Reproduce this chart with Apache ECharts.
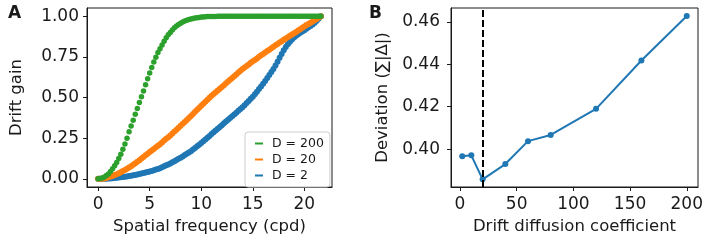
<!DOCTYPE html>
<html>
<head>
<meta charset="utf-8">
<script src="https://cdn.jsdelivr.net/npm/echarts@6.0.0/dist/echarts.min.js"></script>
<style>
  html, body { margin: 0; padding: 0; background: #fff; }
  #chart { width: 716px; height: 240px; }
</style>
</head>
<body>
<div id="chart"></div>
<script>
  // A: spatial frequency (cpd)
  var freq = [
    0, 0.2, 0.4, 0.6, 0.8, 1, 1.2, 1.4, 1.6, 1.8,
    2, 2.2, 2.4, 2.6, 2.8, 3, 3.2, 3.4, 3.6, 3.8,
    4, 4.2, 4.4, 4.6, 4.8, 5, 5.2, 5.4, 5.6, 5.8,
    6, 6.2, 6.4, 6.6, 6.8, 7, 7.2, 7.4, 7.6, 7.8,
    8, 8.2, 8.4, 8.6, 8.8, 9, 9.2, 9.4, 9.6, 9.8,
    10, 10.2, 10.4, 10.6, 10.8, 11, 11.2, 11.4, 11.6, 11.8,
    12, 12.2, 12.4, 12.6, 12.8, 13, 13.2, 13.4, 13.6, 13.8,
    14, 14.2, 14.4, 14.6, 14.8, 15, 15.2, 15.4, 15.6, 15.8,
    16, 16.2, 16.4, 16.6, 16.8, 17, 17.2, 17.4, 17.6, 17.8,
    18, 18.2, 18.4, 18.6, 18.8, 19, 19.2, 19.4, 19.6, 19.8,
    20, 20.2, 20.4, 20.6, 20.8, 21, 21.2, 21.4, 21.6
  ]
  // drift gain, D = 2
  var gainD2 = [
    0.000, 0.000, 0.000, 0.001, 0.001, 0.002, 0.003, 0.004, 0.005, 0.007,
    0.008, 0.010, 0.011, 0.013, 0.015, 0.017, 0.019, 0.022, 0.024, 0.027,
    0.030, 0.033, 0.036, 0.039, 0.042, 0.045, 0.049, 0.053, 0.057, 0.061,
    0.065, 0.071, 0.077, 0.083, 0.089, 0.095, 0.102, 0.109, 0.116, 0.123,
    0.130, 0.138, 0.146, 0.154, 0.162, 0.170, 0.180, 0.190, 0.200, 0.210,
    0.220, 0.231, 0.242, 0.253, 0.264, 0.275, 0.286, 0.297, 0.308, 0.319,
    0.330, 0.341, 0.352, 0.363, 0.374, 0.385, 0.396, 0.407, 0.418, 0.429,
    0.440, 0.453, 0.466, 0.479, 0.492, 0.505, 0.520, 0.536, 0.552, 0.568,
    0.585, 0.602, 0.620, 0.638, 0.656, 0.675, 0.697, 0.720, 0.744, 0.768,
    0.790, 0.810, 0.828, 0.843, 0.857, 0.869, 0.879, 0.889, 0.898, 0.906,
    0.914, 0.922, 0.931, 0.940, 0.949, 0.960, 0.972, 0.985, 1.000
  ]
  // drift gain, D = 20
  var gainD20 = [
    0.000, 0.000, 0.001, 0.003, 0.006, 0.010, 0.014, 0.018, 0.023, 0.029,
    0.035, 0.041, 0.048, 0.055, 0.062, 0.070, 0.078, 0.087, 0.096, 0.105,
    0.115, 0.125, 0.135, 0.145, 0.155, 0.165, 0.174, 0.184, 0.194, 0.204,
    0.213, 0.224, 0.235, 0.246, 0.256, 0.267, 0.279, 0.291, 0.302, 0.314,
    0.326, 0.338, 0.350, 0.362, 0.374, 0.386, 0.399, 0.412, 0.425, 0.437,
    0.450, 0.462, 0.474, 0.486, 0.498, 0.510, 0.521, 0.532, 0.543, 0.554,
    0.565, 0.576, 0.587, 0.598, 0.609, 0.620, 0.631, 0.642, 0.653, 0.664,
    0.675, 0.684, 0.694, 0.703, 0.713, 0.722, 0.731, 0.740, 0.750, 0.759,
    0.768, 0.777, 0.786, 0.794, 0.803, 0.812, 0.821, 0.829, 0.838, 0.846,
    0.855, 0.863, 0.871, 0.879, 0.887, 0.895, 0.903, 0.912, 0.920, 0.929,
    0.937, 0.945, 0.952, 0.960, 0.967, 0.975, 0.983, 0.991, 1.000
  ]
  // drift gain, D = 200
  var gainD200 = [
    0.000, 0.002, 0.006, 0.012, 0.020, 0.030, 0.045, 0.062, 0.080, 0.100,
    0.125, 0.152, 0.182, 0.215, 0.250, 0.290, 0.325, 0.360, 0.397, 0.433,
    0.470, 0.505, 0.540, 0.578, 0.615, 0.650, 0.685, 0.718, 0.748, 0.776,
    0.800, 0.822, 0.845, 0.867, 0.885, 0.900, 0.915, 0.928, 0.940, 0.949,
    0.957, 0.964, 0.970, 0.975, 0.979, 0.983, 0.986, 0.988, 0.990, 0.992,
    0.994, 0.995, 0.996, 0.997, 0.997, 0.998, 0.998, 0.998, 0.999, 0.999,
    0.999, 1.000, 1.000, 1.000, 1.000, 1.000, 1.000, 1.000, 1.000, 1.000,
    1.000, 1.000, 1.000, 1.000, 1.000, 1.000, 1.000, 1.000, 1.000, 1.000,
    1.000, 1.000, 1.000, 1.000, 1.000, 1.000, 1.000, 1.000, 1.000, 1.000,
    1.000, 1.000, 1.000, 1.000, 1.000, 1.000, 1.000, 1.000, 1.000, 1.000,
    1.000, 1.000, 1.000, 1.000, 1.000, 1.000, 1.000, 1.000, 1.000
  ]
  var ticksAX = [0, 5, 10, 15, 20]
  var ticksAY = [0, 0.25, 0.5, 0.75, 1]

  // B: deviation vs drift diffusion coefficient
  var diffCoef = [2, 10, 20, 40, 60, 80, 120, 160, 200]
  var deviation = [0.3967, 0.3971, 0.3858, 0.3930, 0.4038, 0.4067, 0.4190, 0.4418, 0.4627]
  var optimalD = 20
  var ticksBX = [0, 50, 100, 150, 200]
  var ticksBY = [0.40, 0.42, 0.44, 0.46]

  var font = 'DejaVu Sans'
  var ink = '#1a1a1a'
  var colors = { d2: '#1f77b4', d20: '#ff7f0e', d200: '#2ca02c' }

  function pairs(xs, ys) {
    return xs.map(function(x, i) { return [x, ys[i]] })
  }

  function valueAxis(min, max, ticks, fmt, labelMargin, extra) {
    var ax = {
      type: 'value',
      min: min,
      max: max,
      axisLine: { show: true, onZero: false, lineStyle: { color: ink, width: 1 } },
      axisTick: { show: true, customValues: ticks, length: 4, lineStyle: { color: ink, width: 1 } },
      axisLabel: {
        customValues: ticks,
        color: ink,
        fontFamily: font,
        fontSize: 17,
        margin: labelMargin,
        formatter: fmt
      },
      splitLine: { show: false },
      nameLocation: 'middle',
      nameTextStyle: { color: ink, fontFamily: font, fontSize: 16.5 }
    }
    return Object.assign(ax, extra)
  }

  var chart = echarts.init(document.getElementById('chart'), null, { renderer: 'canvas' })

  var options = {
    animation: false,
    backgroundColor: '#fff',
    title: [
      { text: 'A', left: 3, top: 0, textStyle: { fontFamily: font, fontSize: 17, fontWeight: 'bold', color: ink } },
      { text: 'B', left: 364, top: 0, textStyle: { fontFamily: font, fontSize: 17, fontWeight: 'bold', color: ink } }
    ],
    grid: [
      { left: 87, top: 8, width: 245, height: 181, show: true, borderColor: ink, borderWidth: 1, backgroundColor: 'transparent' },
      { left: 451, top: 8, width: 247, height: 181, show: true, borderColor: ink, borderWidth: 1, backgroundColor: 'transparent' }
    ],
    xAxis: [
      valueAxis(-1.08, 22.68, ticksAX, function(v) { return String(v) }, 9,
        { gridIndex: 0, name: 'Spatial frequency (cpd)', nameGap: 31 }),
      valueAxis(-7.9, 209.9, ticksBX, function(v) { return String(v) }, 9,
        { gridIndex: 1, name: 'Drift diffusion coefficient', nameGap: 31 })
    ],
    yAxis: [
      valueAxis(-0.05, 1.05, ticksAY, function(v) { return v.toFixed(2) }, 8,
        { gridIndex: 0, name: 'Drift gain', nameGap: 62 }),
      valueAxis(0.3822, 0.4665, ticksBY, function(v) { return v.toFixed(2) }, 11,
        { gridIndex: 1, name: 'Deviation (\u2211|\u0394|)', nameGap: 60 })
    ],
    legend: {
      left: 245,
      top: 132,
      orient: 'vertical',
      data: ['D = 200', 'D = 20', 'D = 2'],
      icon: 'rect',
      itemWidth: 8,
      itemHeight: 2,
      itemGap: 3,
      padding: [5, 6, 5, 10],
      borderColor: '#cccccc',
      borderWidth: 1,
      borderRadius: 3,
      backgroundColor: 'rgba(255,255,255,0.8)',
      textStyle: { fontFamily: font, fontSize: 12.5, color: ink, lineHeight: 13, padding: [0, 0, 0, 4] }
    },
    series: [
      {
        name: 'D = 2', type: 'scatter', xAxisIndex: 0, yAxisIndex: 0,
        data: pairs(freq, gainD2), symbolSize: 6,
        itemStyle: { color: colors.d2, opacity: 1 }
      },
      {
        name: 'D = 20', type: 'scatter', xAxisIndex: 0, yAxisIndex: 0,
        data: pairs(freq, gainD20), symbolSize: 6,
        itemStyle: { color: colors.d20, opacity: 1 }
      },
      {
        name: 'D = 200', type: 'scatter', xAxisIndex: 0, yAxisIndex: 0,
        data: pairs(freq, gainD200), symbolSize: 5.5,
        itemStyle: { color: colors.d200, opacity: 1 }
      },
      {
        name: 'deviation', type: 'line', xAxisIndex: 1, yAxisIndex: 1,
        data: pairs(diffCoef, deviation),
        symbol: 'circle', symbolSize: 6, showSymbol: true,
        lineStyle: { color: colors.d2, width: 2 },
        itemStyle: { color: colors.d2 },
        markLine: {
          silent: true,
          symbol: ['none', 'none'],
          label: { show: false },
          lineStyle: { color: '#000', width: 2, type: [7, 3] },
          data: [{ xAxis: optimalD }]
        }
      }
    ]
  }

  chart.setOption(options)
</script>
</body>
</html>
